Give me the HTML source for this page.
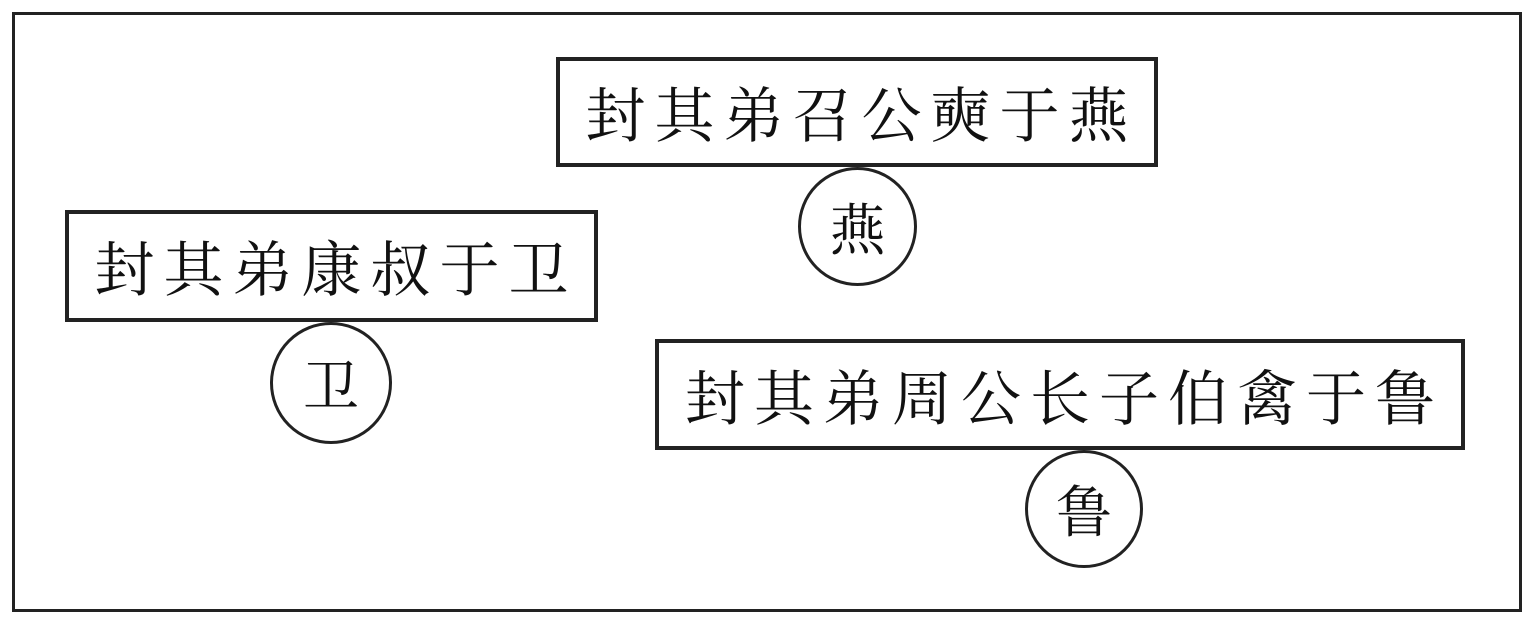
<!DOCTYPE html>
<html><head><meta charset="utf-8"><style>
body{margin:0;width:1535px;height:620px;background:#fff;position:relative;overflow:hidden;font-family:"Liberation Serif","Noto Serif CJK SC",serif;color:#111}
.o{position:absolute;left:12px;top:12px;width:1504px;height:594px;border:3px solid #222}
.b{position:absolute;border:4px solid #222;box-sizing:border-box;display:flex;align-items:center;justify-content:center;font-size:60px;letter-spacing:9px;white-space:nowrap;background:#fff}
.b span{margin-right:-9px}
.c{position:absolute;border:3px solid #222;border-radius:50%;box-sizing:border-box;display:flex;align-items:center;justify-content:center;font-size:56px;background:#fff}
</style></head><body>
<div class="o"></div>
<div class="b" style="left:556px;top:57px;width:602px;height:110px"><span>封其弟召公奭于燕</span></div>
<div class="c" style="left:798px;top:167px;width:119px;height:119px">燕</div>
<div class="b" style="left:65px;top:210px;width:533px;height:112px"><span>封其弟康叔于卫</span></div>
<div class="c" style="left:270px;top:322px;width:122px;height:122px">卫</div>
<div class="b" style="left:655px;top:339px;width:810px;height:111px"><span>封其弟周公长子伯禽于鲁</span></div>
<div class="c" style="left:1025px;top:450px;width:118px;height:118px">鲁</div>
</body></html>
